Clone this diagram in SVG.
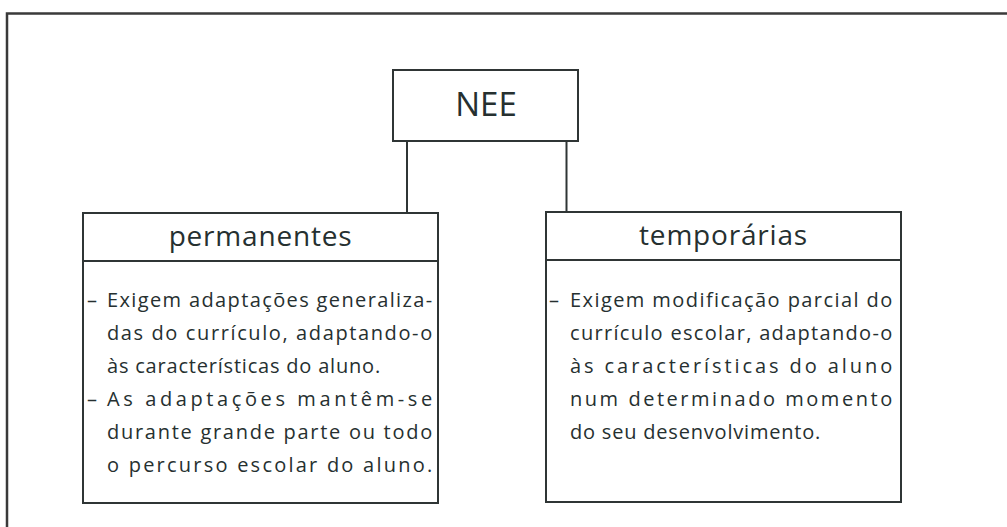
<svg xmlns="http://www.w3.org/2000/svg" width="1007" height="527" viewBox="0 0 1007 527">
<style>
.frame{stroke:#3a3a3a;stroke-width:2.5;fill:none}
.box{fill:#fff;stroke:#2f3535;stroke-width:2}
.conn{stroke:#2f3535;stroke-width:2;fill:none}
.t{font-family:"Open Sans","Noto Sans",sans-serif;fill:#263030}
.title{font-size:28px;text-anchor:middle;letter-spacing:0.8px}
.body{font-size:20px;letter-spacing:0.8px}
</style>
<rect width="1007" height="527" fill="#fff"/>
<path class="frame" d="M7,540 V13.5 H1010"/>
<g id="connectors">
<line class="conn" x1="407" y1="141" x2="407" y2="213"/>
<line class="conn" x1="566.5" y1="141" x2="566.5" y2="212"/>
</g>
<g id="nee">
<rect class="box" x="393" y="70" width="185" height="71"/>
<text class="t" x="486" y="116" font-size="33" text-anchor="middle">NEE</text>
</g>
<g id="permanentes">
<rect class="box" x="83" y="213" width="355" height="290"/>
<line class="conn" x1="83" y1="261" x2="438" y2="261"/>
<text class="t title" x="260.5" y="246">permanentes</text>
<text class="t body" x="87" y="307">–</text>
<text class="t body" x="107" y="307" textLength="326" lengthAdjust="spacing">Exigem adaptações generaliza-</text>
<text class="t body" x="107" y="340" textLength="326" lengthAdjust="spacing">das do currículo, adaptando-o</text>
<text class="t body" x="107" y="373">às características do aluno.</text>
<text class="t body" x="87" y="406">–</text>
<text class="t body" x="107" y="406" textLength="326" lengthAdjust="spacing">As adaptações mantêm-se</text>
<text class="t body" x="107" y="439" textLength="326" lengthAdjust="spacing">durante grande parte ou todo</text>
<text class="t body" x="107" y="472" textLength="326" lengthAdjust="spacing">o percurso escolar do aluno.</text>
</g>
<g id="temporarias">
<rect class="box" x="546" y="212" width="355" height="290"/>
<line class="conn" x1="546" y1="260" x2="901" y2="260"/>
<text class="t title" x="723.5" y="245">temporárias</text>
<text class="t body" x="549" y="307">–</text>
<text class="t body" x="570" y="307" textLength="323" lengthAdjust="spacing">Exigem modificação parcial do</text>
<text class="t body" x="570" y="340" textLength="323" lengthAdjust="spacing">currículo escolar, adaptando-o</text>
<text class="t body" x="570" y="373" textLength="323" lengthAdjust="spacing">às características do aluno</text>
<text class="t body" x="570" y="406" textLength="323" lengthAdjust="spacing">num determinado momento</text>
<text class="t body" x="570" y="439">do seu desenvolvimento.</text>
</g>
</svg>
